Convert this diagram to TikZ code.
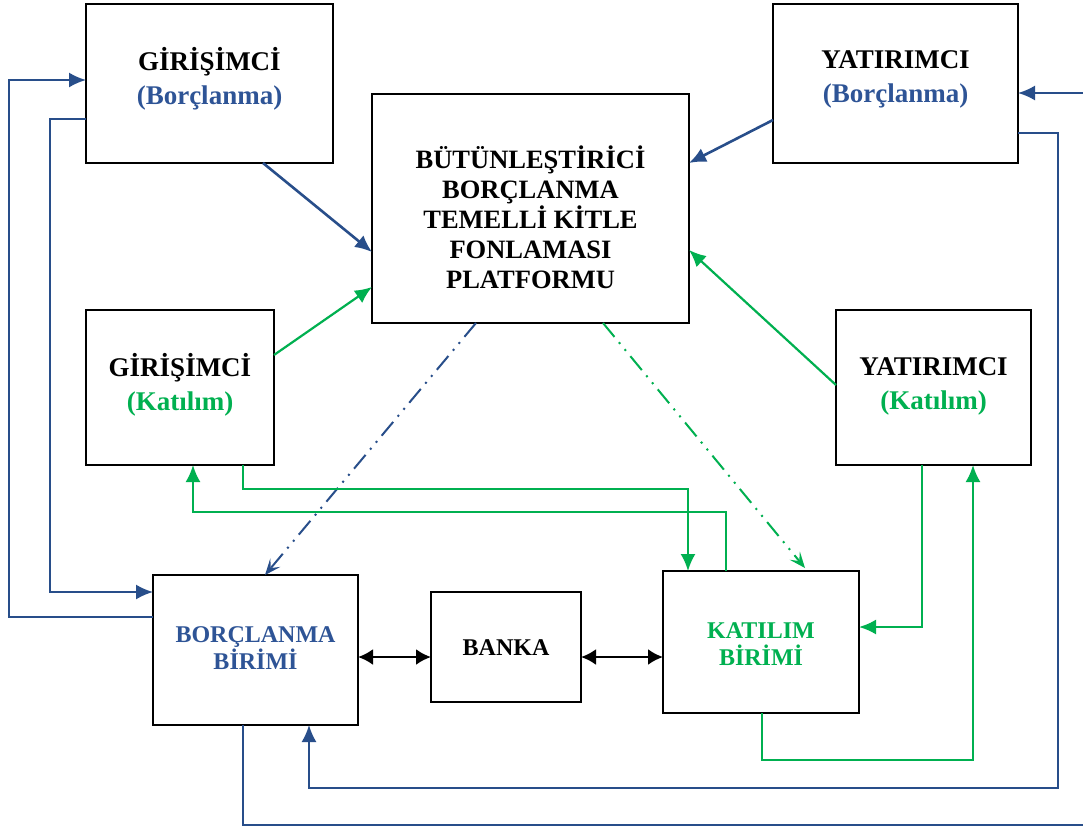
\documentclass[tikz,border=0pt]{standalone}
\usepackage{fontspec}
\setmainfont{Liberation Serif}
\usetikzlibrary{arrows.meta}
\definecolor{bline}{RGB}{40,78,138}
\definecolor{btext}{RGB}{46,84,150}
\definecolor{gline}{RGB}{0,176,80}
\tikzset{
  box/.style={draw=black, line width=2.2pt, fill=white, inner sep=0pt, outer sep=0pt},
  lbltop/.style={font=\bfseries\fontsize{27}{34}\selectfont, align=center, inner sep=0pt},
  lblpf/.style={font=\bfseries\fontsize{26.5}{30}\selectfont, align=center, inner sep=0pt},
  lblbot/.style={font=\bfseries\fontsize{24}{27}\selectfont, align=center, inner sep=0pt},
  bl/.style={draw=bline, line width=2pt},
  blthick/.style={draw=bline, line width=2.6pt},
  gr/.style={draw=gline, line width=2.2pt},
  btip/.style={-{Latex[length=17pt,width=15pt]}},
  dtip/.style={-{Stealth[length=16pt,width=13pt,inset=7pt]}},
  dashdd/.style={line width=2pt, dash pattern=on 18pt off 7pt on 2pt off 7pt on 2pt off 7pt},
}
\begin{document}
\begin{tikzpicture}[x=1pt,y=-1pt]
\useasboundingbox (0,0) rectangle (1083,828);
\fill[white] (0,0) rectangle (1083,828);

% boxes
\node[box, minimum width=247pt, minimum height=159pt] (gb) at (209.5,83.5) {};
\node[box, minimum width=245pt, minimum height=159pt] (yb) at (895.5,83.5) {};
\node[box, minimum width=317pt, minimum height=229pt] (pf) at (530.5,208.5) {};
\node[box, minimum width=188pt, minimum height=155pt] (gk) at (180,387.5) {};
\node[box, minimum width=195pt, minimum height=155pt] (yk) at (933.5,387.5) {};
\node[box, minimum width=205pt, minimum height=150pt] (bb) at (255.5,650) {};
\node[box, minimum width=150pt, minimum height=110pt] (bk) at (506,647) {};
\node[box, minimum width=196pt, minimum height=142pt] (kb) at (761,642) {};

% texts
\node[lbltop] (gbt) at (209.5,79) {GİRİŞİMCİ\\\textcolor{btext}{(Borçlanma)}};
\node[lbltop] (ybt) at (895.5,79) {YATIRIMCI\\\textcolor{btext}{(Borçlanma)}};
\node[lblpf] (pft) at (530.5,217) {BÜTÜNLEŞTİRİCİ\\BORÇLANMA\\TEMELLİ KİTLE\\FONLAMASI\\PLATFORMU};
\node[lbltop] (gkt) at (180,385) {GİRİŞİMCİ\\\textcolor{gline}{(Katılım)}};
\node[lbltop] (ykt) at (933.5,386) {YATIRIMCI\\\textcolor{gline}{(Katılım)}};
\node[lblbot, text=btext] (bbt) at (255.5,648) {BORÇLANMA\\BİRİMİ};
\node[lblbot] (bkt) at (506,648) {BANKA};
\node[lblbot, text=gline] (kbt) at (761,644) {KATILIM\\BİRİMİ};

% blue connectors
\draw[bl, btip] ([yshift=-42pt]bb.north west) -| (9,80) -- ([yshift=-76pt]gb.north west);
\draw[bl, btip] ([yshift=-115pt]gb.north west) -| (50,592) -- ([yshift=-17pt]bb.north west);
\draw[blthick, btip] ([xshift=53.5pt]gb.south) -- ([yshift=-158pt]pf.north west);
\draw[blthick, btip] ([yshift=-116pt]yb.north west) -- ([yshift=-69pt]pf.north east);
\draw[bl, btip] ([xshift=-12.5pt]bb.south) |- (1090,825) |- ([yshift=-89pt]yb.north east);
\draw[bl, btip] ([yshift=-129pt]yb.north east) -| (1058,788) -| ([xshift=53.5pt]bb.south);
\draw[dashdd, draw=bline, dtip] ([xshift=-54.5pt]pf.south) -- ([xshift=9.5pt]bb.north);

% green connectors
\draw[gr, btip] ([yshift=-45pt]gk.north east) -- ([yshift=-193pt]pf.north west);
\draw[gr, btip] ([yshift=-75pt]yk.north west) -- ([yshift=-156pt]pf.north east);
\draw[dashdd, draw=gline, dtip] ([xshift=72.5pt]pf.south) -- ([xshift=44pt,yshift=3pt]kb.north);
\draw[gr, btip] ([xshift=63pt]gk.south) -- (243,489) -| ([xshift=-73pt]kb.north);
\draw[gr, btip] ([xshift=-35pt]kb.north) -- (726,512) -| ([xshift=13pt]gk.south);
\draw[gr, btip] ([xshift=-11.5pt]yk.south) |- ([yshift=-56pt]kb.north east);
\draw[gr, btip] ([xshift=1pt]kb.south) -- (762,760) -| ([xshift=39.5pt]yk.south);

% black double arrows
\draw[line width=2.4pt, {Latex[length=15pt,width=16pt]}-{Latex[length=15pt,width=16pt]}] ([yshift=-7pt]bb.east) -- ([yshift=-10pt]bk.west);
\draw[line width=2.4pt, {Latex[length=15pt,width=16pt]}-{Latex[length=15pt,width=16pt]}] ([yshift=-10pt]bk.east) -- ([yshift=-15pt]kb.west);
\end{tikzpicture}
\end{document}
